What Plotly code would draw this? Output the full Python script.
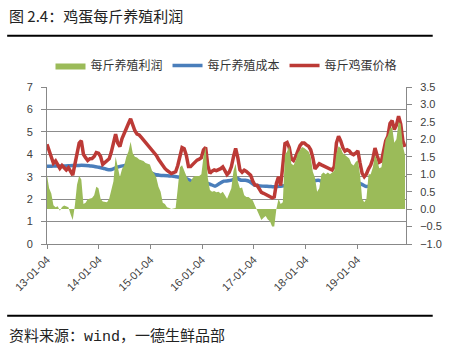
import pandas as pd
import plotly.graph_objects as go

# ---- data: semi-monthly readings, Jan 2013 .. Dec 2019 ----
price = [4.45, 4.20, 3.90, 3.60, 3.70, 3.55, 3.37, 3.50, 3.42, 3.30, 3.40, 3.25,
         3.07, 3.55, 4.00, 4.50, 4.60, 4.00, 3.85, 3.72, 3.80, 3.81, 3.90, 4.08,
         4.05, 3.90, 3.55, 3.65, 3.75, 3.80, 4.10, 4.50, 4.90, 4.50, 4.35, 4.70,
         4.95, 5.15, 5.37, 5.58, 5.28, 5.05, 4.90, 4.86, 4.75, 4.64, 4.55, 4.45,
         4.34, 4.20, 4.08, 3.95, 3.78, 3.62, 3.48, 3.37, 3.28, 3.23, 3.14, 3.18,
         3.22, 3.50, 3.85, 4.30, 4.25, 3.95, 3.45, 3.45, 3.55, 3.65, 3.74, 3.78,
         3.85, 4.20, 4.30, 3.50, 3.15, 3.25, 3.30, 3.27, 3.30, 3.36, 3.44, 3.30,
         3.10, 3.20, 3.44, 3.90, 4.26, 3.85, 3.30, 3.20, 3.29, 3.24, 3.15, 3.07,
         2.80, 2.63, 2.62, 2.43, 2.30, 2.26, 2.20, 2.15, 2.10, 2.06, 2.10, 2.70,
         3.00, 2.60, 3.50, 4.48, 4.53, 4.30, 3.80, 3.72, 3.90, 4.12, 4.38, 4.50,
         4.50, 4.42, 4.36, 4.20, 3.85, 3.35, 3.50, 3.58, 3.53, 3.48, 3.43, 3.38,
         3.33, 3.30, 3.45, 4.50, 4.80, 4.60, 4.30, 4.14, 4.20, 4.15, 4.03, 3.98,
         4.05, 4.15, 3.62, 3.15, 3.00, 3.12, 3.35, 3.52, 3.80, 4.28, 3.95, 3.65,
         3.70, 4.26, 4.60, 4.80, 5.37, 5.50, 5.10, 5.30, 5.70, 5.35, 4.60, 4.33]
profit = [0.97, 0.60, 0.45, 0.11, 0.05, 0.08, -0.05, 0.06, 0.10, 0.08, 0.05, -0.15,
          -0.31, 0.10, 0.70, 0.95, 0.85, 0.15, 0.18, 0.28, 0.30, 0.32, 0.40, 0.64,
          0.60, 0.30, 0.22, 0.20, 0.20, 0.30, 0.54, 0.80, 1.50, 1.20, 0.92, 1.15,
          1.25, 1.50, 1.65, 1.93, 1.60, 1.50, 1.48, 1.42, 1.40, 1.38, 1.32, 1.30,
          1.28, 1.10, 1.02, 0.90, 0.64, 0.50, 0.18, 0.15, 0.05, 0.03, 0.00, 0.02,
          0.03, 0.60, 1.20, 1.26, 1.10, 1.00, 0.80, 0.78, 0.90, 0.95, 0.95, 0.95,
          1.00, 1.50, 1.78, 0.90, 0.55, 0.50, 0.52, 0.48, 0.50, 0.45, 0.50, 0.40,
          0.30, 0.45, 0.60, 1.10, 1.30, 0.80, 0.60, 0.62, 0.40, 0.35, 0.35, 0.30,
          0.25, 0.10, -0.05, -0.15, -0.31, -0.25, -0.20, -0.30, -0.35, -0.50, -0.50, 0.00,
          0.30, 0.15, 0.20, 1.55, 1.65, 1.80, 1.30, 1.26, 1.40, 1.60, 1.70, 1.78,
          1.75, 1.70, 1.65, 1.50, 1.07, 0.90, 0.50, 0.60, 1.00, 1.05, 1.00, 1.05,
          1.00, 1.05, 1.10, 1.60, 1.80, 1.75, 1.60, 1.55, 1.50, 1.45, 1.30, 1.25,
          1.35, 1.40, 1.00, 0.30, 0.20, 0.30, 1.00, 1.00, 1.20, 1.55, 1.40, 1.17,
          1.20, 1.60, 2.00, 2.10, 2.30, 2.35, 1.90, 2.00, 2.50, 2.45, 1.80, 1.55]
# ---- data: monthly readings of breeding cost ----
cost = [3.47, 3.47, 3.48, 3.48, 3.48, 3.49, 3.50, 3.50, 3.51, 3.50, 3.48, 3.46,
        3.42, 3.38, 3.32, 3.32, 3.40, 3.46, 3.50, 3.55, 3.54, 3.45, 3.37, 3.27,
        3.18, 3.10, 3.07, 3.05, 3.04, 3.03, 3.00, 2.97, 2.93, 2.85, 2.74, 2.73,
        2.73, 2.72, 2.65, 2.58, 2.70, 2.80, 2.82, 2.86, 2.93, 2.84, 2.84, 2.78,
        2.64, 2.60, 2.58, 2.57, 2.56, 2.55, 2.57, 2.60, 2.62, 2.63, 2.63, 2.63,
        2.66, 2.74, 2.82, 2.84, 2.76, 2.70, 2.74, 2.80, 2.86, 2.90, 2.86, 2.80,
        2.75, 2.66, 2.56, 2.60, 2.66, 2.70, 2.73, 2.76, 2.79, 2.80, 2.80, 2.80]

start_date, end_date = "2013-01-04", "2019-12-08"
dates_semi = pd.date_range(start_date, end_date, periods=len(price))
dates_month = pd.date_range(start_date, end_date, periods=len(cost))

tick_vals = ["2013-01-04", "2014-01-04", "2015-01-04", "2016-01-04",
             "2017-01-04", "2018-01-04", "2019-01-04"]
tick_text = ["13-01-04", "14-01-04", "15-01-04", "16-01-04",
             "17-01-04", "18-01-04", "19-01-04"]

names = ["每斤养殖利润", "每斤养殖成本", "每斤鸡蛋价格"]
title_text = "图 2.4：鸡蛋每斤养殖利润"
source_text = ("资料来源：<span style=\"font-family:'Liberation Mono', monospace\">wind</span>"
               "，一德生鲜品部")

W, H = 454, 347
L, R, T, B = 47, 416.5, 86.5, 244


def px(x):
    return (x - L) / (R - L)


def py(y):
    return (B - y) / (B - T)


fig = go.Figure()
fig.add_trace(go.Scatter(x=dates_semi, y=profit, name=names[0], yaxis="y2",
                         mode="lines", line=dict(width=0, color="#9BBB59"),
                         fill="tozeroy", fillcolor="#9BBB59"))
fig.add_trace(go.Scatter(x=dates_month, y=cost, name=names[1], mode="lines",
                         line=dict(width=3.5, color="#4A7EBB", shape="spline", smoothing=0.6)))
fig.add_trace(go.Scatter(x=dates_semi, y=price, name=names[2], mode="lines",
                         line=dict(width=3.5, color="#BC3A36")))

tick_font = dict(family="Liberation Sans, Arial, sans-serif", size=11, color="#404040")
cjk = "Noto Sans CJK SC, sans-serif"

fig.update_layout(
    width=W, height=H,
    margin=dict(l=L, r=W - R, t=T, b=H - B),
    paper_bgcolor="white", plot_bgcolor="white",
    showlegend=True,
    legend=dict(orientation="h", x=0.5, xanchor="center", y=py(65), yanchor="middle",
                font=dict(family=cjk, size=12, color="#333333"),
                itemwidth=30, bgcolor="rgba(0,0,0,0)"),
    xaxis=dict(type="date", range=["2013-01-04", "2019-12-15"],
               tickvals=tick_vals, ticktext=tick_text, tickangle=-45,
               ticks="outside", ticklen=4, tickcolor="#888888",
               showgrid=False, showline=True, linecolor="#888888", linewidth=1,
               tickfont=tick_font, zeroline=False),
    yaxis=dict(range=[0, 7], dtick=1, tick0=0, showgrid=True, gridcolor="#8C8C8C",
               gridwidth=1, showline=True, linecolor="#888888", ticks="outside",
               ticklen=5, tickcolor="#888888", tickfont=tick_font, zeroline=False,
               ticklabelstandoff=6),
    yaxis2=dict(range=[-1, 3.5], dtick=0.5, tick0=-1, overlaying="y", side="right",
                tickformat=".1f", showgrid=False, showline=True, linecolor="#888888",
                ticks="outside", ticklen=5, tickcolor="#888888", tickfont=tick_font,
                zeroline=False, ticklabelstandoff=6),
    shapes=[
        dict(type="line", xref="paper", yref="paper", x0=px(6), x1=px(444),
             y0=py(35), y1=py(35), line=dict(color="black", width=2)),
        dict(type="line", xref="paper", yref="paper", x0=px(6), x1=px(444),
             y0=py(316), y1=py(316), line=dict(color="black", width=2)),
    ],
    annotations=[
        dict(text=title_text, xref="paper", yref="paper", x=px(6), y=py(15),
             xanchor="left", yanchor="middle", showarrow=False,
             font=dict(family=cjk, size=15, color="#222222")),
        dict(text=source_text, xref="paper", yref="paper", x=px(6), y=py(335),
             xanchor="left", yanchor="middle", showarrow=False,
             font=dict(family=cjk, size=15, color="#222222")),
    ],
)

fig.write_html("out.html")
